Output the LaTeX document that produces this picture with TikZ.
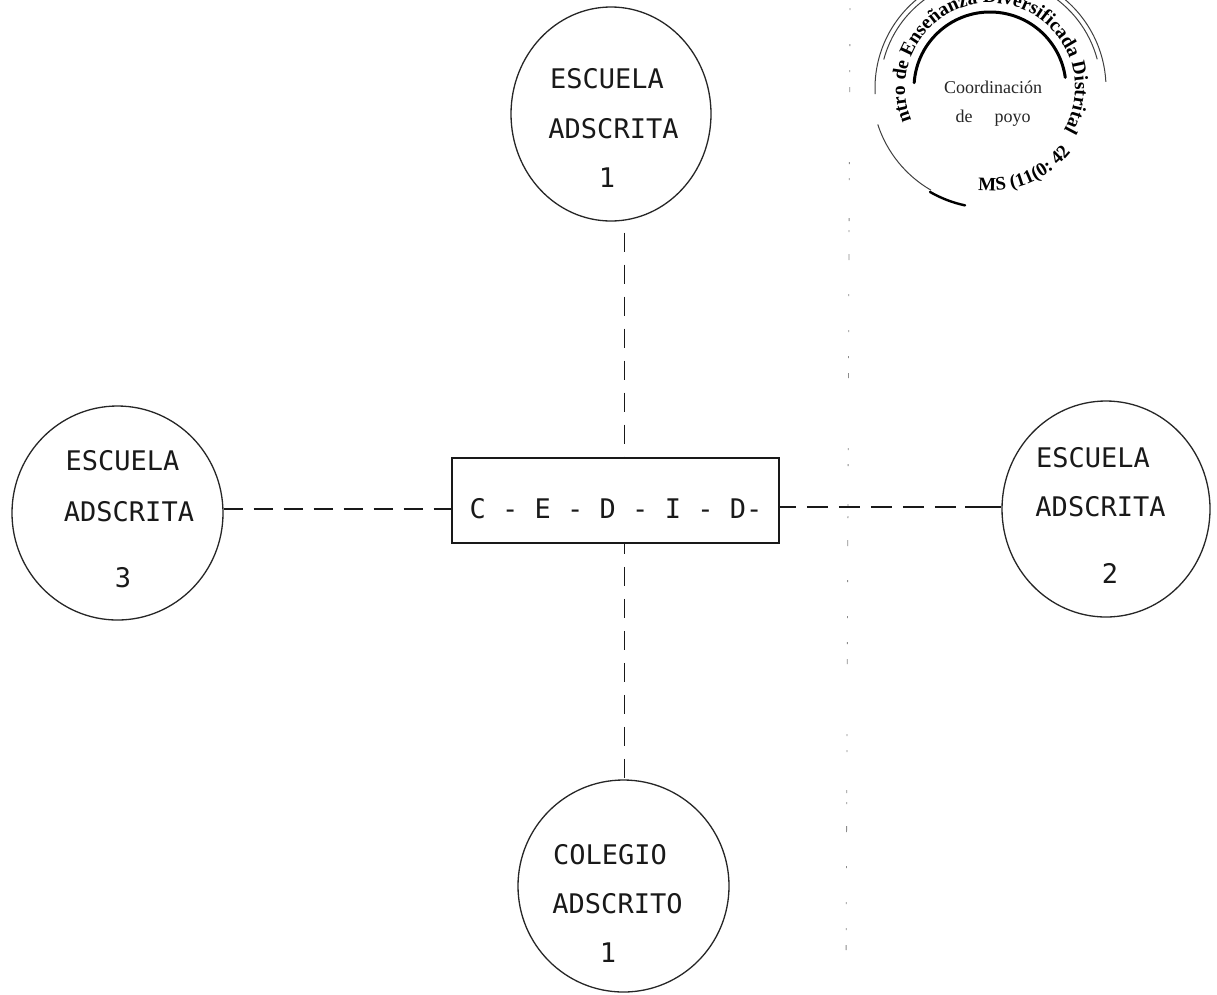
\documentclass[tikz,border=0pt]{standalone}
\usepackage{fontspec}
\setmainfont{DejaVu Sans Mono}
\newfontfamily\stampfont{Liberation Serif}
\usetikzlibrary{decorations.text,shapes.geometric}
\tikzset{
  x=1pt,y=-1pt,
  adscrita/.style={draw=black!85,line width=1.3pt,ellipse,inner sep=0pt},
  caption/.style={font=\fontsize{27}{27}\selectfont,text=black!90,inner sep=0pt,anchor=base},
  linkh/.style={draw=black!90,line width=1.9pt,dash pattern=on 19pt off 11pt},
  linkv/.style={draw=black!90,line width=1.6pt,dash pattern=on 19pt off 13pt},
  stampthin/.style={draw=black!75,line width=1pt},
  stampthick/.style={draw=black,line width=3pt,line cap=round},
  stamptext/.style={font=\stampfont\fontsize{18}{18}\selectfont,text=black!85,inner sep=0pt,anchor=base},
}
\begin{document}
\begin{tikzpicture}
\useasboundingbox (0,0) rectangle (1217,994);
\fill[white] (0,0) rectangle (1217,994);
% faint specks of the scan
\draw[black!45,line width=.8pt,dash pattern=on 2pt off 34pt on 2pt off 24pt on 2pt off 15pt on 5pt off 70pt on 2pt off 14pt on 2pt off 38pt on 3pt off 9pt on 2pt off 22pt on 6pt off 34pt]
  (850,8) -- (846,972);
% nodes
\node[adscrita,minimum width=200pt,minimum height=214pt] (e1) at (611,114) {};
\node[adscrita,minimum width=211pt,minimum height=214pt] (e3) at (117.5,513) {};
\node[adscrita,minimum width=208pt,minimum height=216pt] (e2) at (1106,509) {};
\node[adscrita,minimum width=211pt,minimum height=212pt] (c1) at (623.5,886) {};
\node[draw=black!90,line width=1.8pt,minimum width=327pt,minimum height=85pt,inner sep=0pt] (box) at (615.5,500.5) {};
% labels
\node[caption] (e1a) at (607,88) {ESCUELA};
\node[caption] (e1b) at (613.5,138) {ADSCRITA};
\node[caption] (e1c) at (607,187) {1};
\node[caption] (e3a) at (122.5,470) {ESCUELA};
\node[caption] (e3b) at (129,521) {ADSCRITA};
\node[caption] (e3c) at (123,587) {3};
\node[caption] (e2a) at (1093,467) {ESCUELA};
\node[caption] (e2b) at (1100.5,516) {ADSCRITA};
\node[caption] (e2c) at (1110,583) {2};
\node[caption] (c1a) at (610,864) {COLEGIO};
\node[caption] (c1b) at (617.5,913) {ADSCRITO};
\node[caption] (c1c) at (608,962) {1};
\node[caption] (boxt) at (616,518) {C - E - D - I - D-};
% connectors
\coordinate (vx) at (624.5,0);
\coordinate (hl) at (0,509);
\coordinate (hr) at (0,507);
\draw[linkv,dash phase=21pt] (e1.south -| vx) -- (box.north -| vx);
\draw[linkv,dash phase=9pt] (box.south -| vx) -- (c1.north -| vx);
\draw[linkh] (e3.east |- hl) -- (box.west |- hl);
\draw[linkh,dash pattern=on 21pt off 11pt,dash phase=5pt] (box.east |- hr) -- (e2.west |- hr);
\draw[black!90,line width=2.2pt] ([xshift=-36pt]e2.west |- hr) -- (e2.west |- hr);
% stamp
\coordinate (sc) at (990,88);
\draw[stampthick] (sc) ++(-176:76) arc[start angle=-176,end angle=-8,radius=76];
\draw[stampthin] (sc) ++(-183:115) arc[start angle=-183,end angle=-117,radius=115];
\draw[stampthin] (sc) ++(-62:116) arc[start angle=-62,end angle=-3,radius=116];
\draw[stampthin] (sc) ++(-165:110) arc[start angle=-165,end angle=-125,radius=110];
\draw[stampthin] (sc) ++(-60:111) arc[start angle=-60,end angle=-15,radius=111];
\draw[stampthin] (sc) ++(-198:118) arc[start angle=-198,end angle=-240,radius=118];
\draw[draw=black,line width=2.4pt,line cap=round] (sc) ++(-240:120) arc[start angle=-240,end angle=-258,radius=120];
\path[decorate,decoration={text along path,text align=center,
  text={|\stampfont\fontsize{19.5}{19.5}\selectfont\bfseries|ntro de Enseñanza Diversificada Distrital}}]
  (sc) ++(-203:85) arc[start angle=-203,end angle=30,radius=85];
\node[stamptext] (coord) at (993,93) {Coordinación};
\node[stamptext] (apoyo) at (993,122) {de\hspace{22pt}poyo};
\path[decorate,decoration={text along path,text align=center,
  text={|\stampfont\fontsize{19}{19}\selectfont\bfseries|MS (11(0: 42}}]
  (sc) ++(-250:103) arc[start angle=-250,end angle=-335,radius=103];
\end{tikzpicture}
\end{document}
